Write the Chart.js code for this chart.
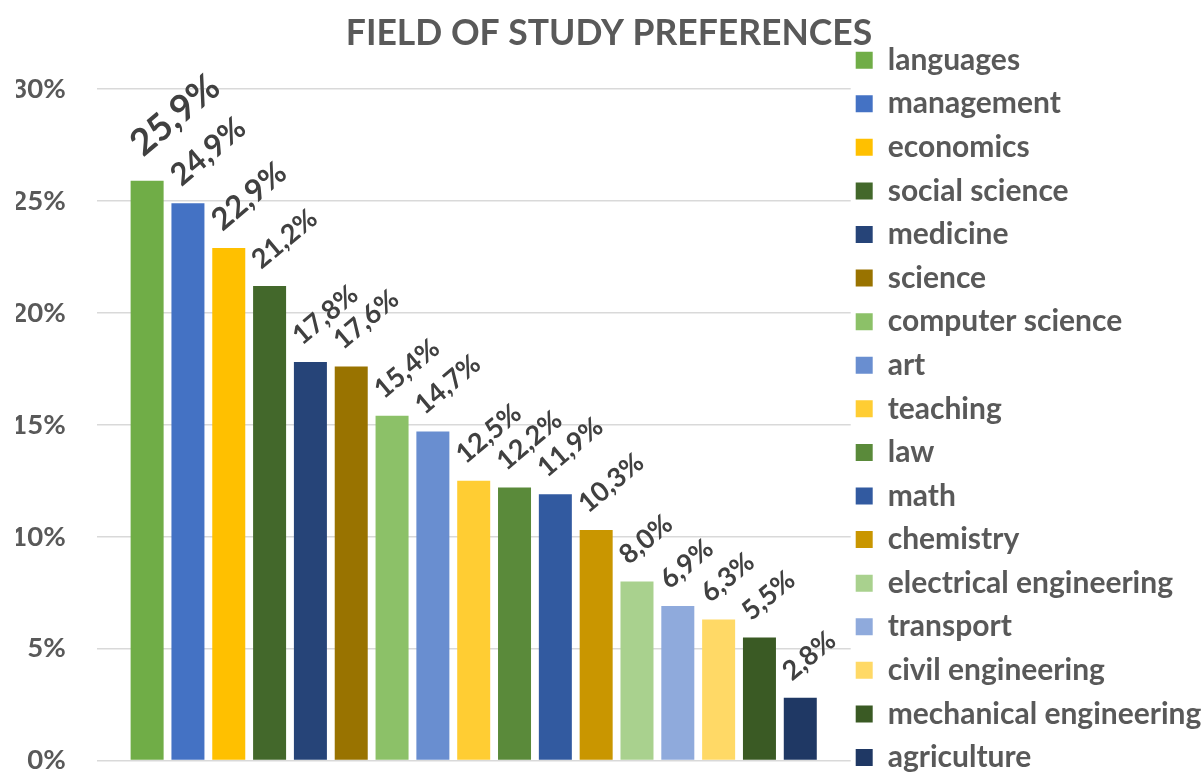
<!DOCTYPE html>
<html>
<head>
<meta charset="utf-8">
<script src="https://cdn.jsdelivr.net/npm/chart.js@4.4.1/dist/chart.umd.min.js"></script>
<style>
html,body{margin:0;padding:0;background:#ffffff;}
#wrap{width:1202px;height:772px;position:relative;}
</style>
</head>
<body>
<div id="wrap"><canvas id="c" width="1202" height="772"></canvas></div>
<script>
// ---- data ----
const chartTitle = 'FIELD OF STUDY PREFERENCES';
const categories = ['languages','management','economics','social science','medicine','science','computer science','art','teaching','law','math','chemistry','electrical engineering','transport','civil engineering','mechanical engineering','agriculture'];
const values = [25.9, 24.9, 22.9, 21.2, 17.8, 17.6, 15.4, 14.7, 12.5, 12.2, 11.9, 10.3, 8.0, 6.9, 6.3, 5.5, 2.8];
const colors = ['#70AD47','#4472C4','#FFC000','#43682B','#264478','#997300','#8CC168','#698ED0','#FFCD33','#5A8A3A','#325AA0','#C99600','#A9D18E','#8FAADC','#FFD966','#3A5A24','#1F3864'];
const yTicks = [0, 5, 10, 15, 20, 25, 30];

// ---- styles ----
const FONT = 'Lato';
const GREY = '#595959';
const LABEL_COLOR = '#404040';
const labelFontSizes = [37, 31, 31, 27, 27, 27, 27, 27, 27, 27, 27, 27, 27, 27, 27, 27, 27];

const datasets = categories.map((name, i) => ({
  label: name,
  data: [values[i]],
  backgroundColor: colors[i],
  borderWidth: 0,
  categoryPercentage: 0.9204,
  barPercentage: 0.8084
}));

const fmt = v => v.toFixed(1).replace('.', ',') + '%';

const valueLabels = {
  id: 'valueLabels',
  afterDatasetsDraw(chart) {
    const ctx = chart.ctx;
    const ang = 40 * Math.PI / 180;
    const c = Math.cos(ang), s = Math.sin(ang);
    chart.data.datasets.forEach((ds, i) => {
      const el = chart.getDatasetMeta(i).data[0];
      if (!el) return;
      const fs = labelFontSizes[i];
      const text = fmt(ds.data[0]);
      ctx.save();
      ctx.font = `bold ${fs}px ${FONT}`;
      const m = ctx.measureText(text);
      const w = m.width;
      const h = m.actualBoundingBoxAscent;
      const W = w * c + h * s;
      const H = w * s + h * c;
      const gap = fs >= 34 ? 23 : 16;
      const barLeft = el.x - el.width / 2;
      const cx = barLeft - 4 + W / 2;
      const cy = el.y - gap - H / 2;
      ctx.translate(cx, cy);
      ctx.rotate(-ang);
      ctx.fillStyle = LABEL_COLOR;
      ctx.textAlign = 'center';
      ctx.textBaseline = 'alphabetic';
      ctx.fillText(text, 0, h / 2);
      ctx.restore();
    });
  }
};

new Chart(document.getElementById('c'), {
  type: 'bar',
  data: { labels: [''], datasets },
  plugins: [valueLabels],
  options: {
    responsive: false,
    devicePixelRatio: 1,
    animation: false,
    layout: { padding: { top: 0, left: 16, right: 0, bottom: -30 } },
    plugins: {
      tooltip: { enabled: false },
      title: {
        display: true,
        text: chartTitle,
        color: GREY,
        font: { family: FONT, size: 35.5, weight: 'bold', lineHeight: 1.2 },
        padding: { top: 12, bottom: 34.4 }
      },
      legend: {
        position: 'right',
        align: 'start',
        maxWidth: 351.3,
        title: { display: true, text: '', font: { size: 10, lineHeight: 1.2 }, padding: { top: 28.2, bottom: 0 } },
        labels: {
          boxWidth: 17,
          boxHeight: 17,
          padding: 5,
          color: GREY,
          font: { family: FONT, size: 30, weight: 'bold', lineHeight: 1.286 },
          generateLabels: chart => Chart.defaults.plugins.legend.labels.generateLabels(chart)
            .map(l => Object.assign({}, l, { text: [l.text], lineWidth: 0, strokeStyle: 'rgba(0,0,0,0)' }))
        }
      }
    },
    scales: {
      x: {
        display: true,
        grid: { display: false },
        border: { display: false },
        ticks: { display: false },
        afterFit: s => { s.height = 41.5; }
      },
      y: {
        min: 0,
        max: 30,
        afterBuildTicks: s => { s.ticks = yTicks.map(v => ({ value: v })); },
        afterFit: s => { s.width = 80.7; s.paddingTop = 0; s.paddingBottom = 0; },
        grid: { color: '#D9D9D9', lineWidth: 1.5, drawTicks: false },
        border: { display: false },
        ticks: {
          padding: 31,
          color: GREY,
          font: { family: FONT, size: 27.5, weight: 'bold' },
          callback: v => v + '%'
        }
      }
    }
  }
});
</script>
</body>
</html>
